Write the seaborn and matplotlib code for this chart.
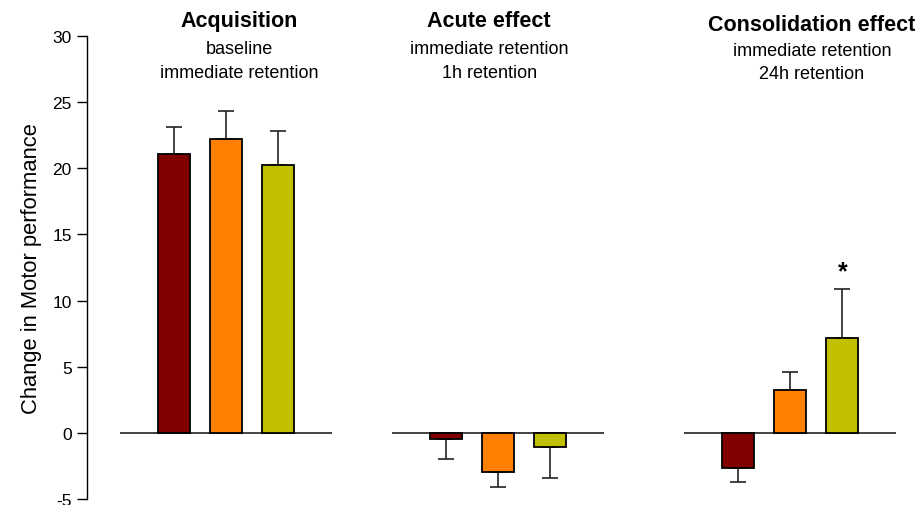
import numpy as np
import pandas as pd
import matplotlib
matplotlib.use("Agg")
import matplotlib.pyplot as plt
import seaborn as sns

# ---- data ----
groups = ["Acquisition", "Acute effect", "Consolidation effect"]
subtitles = ["baseline\nimmediate retention",
             "immediate retention\n1h retention",
             "immediate retention\n24h retention"]
conditions = ["Condition 1", "Condition 2", "Condition 3"]
acquisition_mean = [21.1, 22.2, 20.25]
acquisition_err = [2.0, 2.1, 2.6]
acute_mean = [-0.5, -2.95, -1.1]
acute_err = [1.5, 1.15, 2.3]
consolidation_mean = [-2.65, 3.25, 7.2]
consolidation_err = [1.05, 1.35, 3.7]
significance = ["", "", "*"]  # consolidation effect only
colors = ["#800000", "#FF8000", "#C0C000"]

# ---- layout ----
group_pos = [0.0, 1.0, 2.074]

means = [acquisition_mean, acute_mean, consolidation_mean]
errs = [acquisition_err, acute_err, consolidation_err]
rows = []
for gi, g in enumerate(groups):
    for ci, c in enumerate(conditions):
        rows.append(dict(group=g, pos=group_pos[gi], condition=c,
                         value=means[gi][ci], err=errs[gi][ci]))
df = pd.DataFrame(rows)

sns.set_theme(style="white")
plt.rcParams["font.family"] = ["Liberation Sans", "DejaVu Sans"]
plt.rcParams["axes.unicode_minus"] = False
plt.rcParams["text.color"] = "black"
plt.rcParams["axes.labelcolor"] = "black"
plt.rcParams["ytick.color"] = "black"

fig = plt.figure(figsize=(9.2, 5.06), dpi=100)
ax = fig.add_axes([87 / 920, 6 / 506, 1 - 87 / 920, 1 - 43 / 506])

sns.barplot(data=df, x="pos", y="value", hue="condition", hue_order=conditions,
            native_scale=True, palette=colors, saturation=1, width=0.574, gap=0.385,
            edgecolor="black", linewidth=1.3, errorbar=None, legend=False,
            ax=ax, zorder=3)

# error bars (one-sided, away from zero)
for p in ax.patches:
    h = p.get_height()
    xc = p.get_x() + p.get_width() / 2
    row = df.iloc[(df["value"] - h).abs().argmin()]
    e = row["err"]
    if h >= 0:
        yerr = [[0], [e]]
    else:
        yerr = [[e], [0]]
    ax.errorbar([xc], [h], yerr=yerr, fmt="none", ecolor="#222222",
                elinewidth=1.2, capsize=6, capthick=1.2, zorder=2)
    if row["condition"] == conditions[2] and row["group"] == groups[2]:
        ax.text(xc, h + e + 1.3, significance[2], ha="center", va="center",
                fontsize=18, fontweight="bold", color="black")

# zero baselines per group
for gp in group_pos:
    ax.hlines(0, gp - 0.39, gp + 0.39, color="#222222", lw=1.2, zorder=1)

# titles
title_x = [0.048, 0.967, 2.154]
title_y = [31.14, 31.14, 30.84]
sub_y = [28.13, 28.13, 28.03]
for gi in range(3):
    ax.text(title_x[gi], title_y[gi], groups[gi], ha="center", va="center",
            fontsize=15.5, fontweight="bold", clip_on=False)
    ax.text(title_x[gi], sub_y[gi], subtitles[gi], ha="center", va="center",
            fontsize=13, linespacing=1.5, clip_on=False)

ax.set_xlim(-0.511, 2.551)
ax.set_ylim(-5, 30)
ax.set_yticks([-5, 0, 5, 10, 15, 20, 25, 30])
ax.set_xticks([])
ax.set_xlabel("")
ax.set_ylabel("Change in Motor performance", fontsize=15.8, labelpad=7)
for s in ["top", "right", "bottom"]:
    ax.spines[s].set_visible(False)
ax.spines["left"].set_color("black")
ax.spines["left"].set_linewidth(1.0)
ax.tick_params(axis="y", direction="out", length=7, width=1, color="black",
               labelsize=12.5, left=True, pad=4)

fig.savefig("out.png", dpi=100)
